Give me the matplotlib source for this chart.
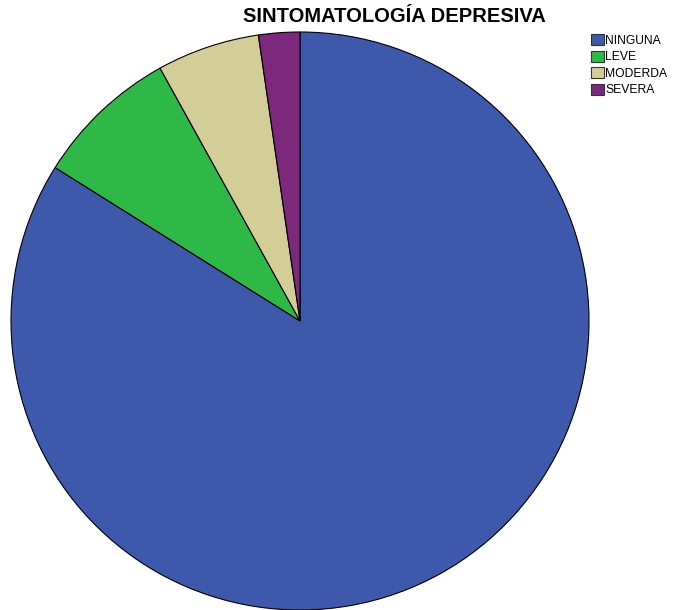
import matplotlib
matplotlib.use("Agg")
import matplotlib.pyplot as plt
from matplotlib.patches import Patch

categories = ["NINGUNA", "LEVE", "MODERDA", "SEVERA"]
values = [73, 7, 5, 2]
colors = ["#3E58AC", "#2EB848", "#D3CE97", "#7C287D"]
title = "SINTOMATOLOGÍA DEPRESIVA"

W, H = 674, 610
fig = plt.figure(figsize=(W / 100, H / 100), dpi=100)
fig.patch.set_facecolor("white")

cx, cy, r = 300, 321, 289
ax = fig.add_axes([(cx - r) / W, (H - cy - r) / H, 2 * r / W, 2 * r / H])
ax.pie(values, colors=colors, startangle=90, counterclock=False,
       wedgeprops=dict(edgecolor="black", linewidth=0.8), radius=1)
ax.set_xlim(-1, 1)
ax.set_ylim(-1, 1)
ax.set_aspect("equal")
ax.axis("off")

fig.text(394 / W, 1 - 17 / H, title, ha="center", va="center",
         fontsize=14.5, fontweight="bold", family=["Liberation Sans", "DejaVu Sans"])

handles = [Patch(facecolor=c, edgecolor="#333333", linewidth=0.8) for c in colors]
leg = fig.legend(handles, categories, loc="upper left",
                 bbox_to_anchor=(583 / W, 1 - 26 / H), frameon=False,
                 prop=dict(family=["Liberation Sans", "DejaVu Sans"], size=8.7),
                 handlelength=1.0, handleheight=1.0, handletextpad=0.15,
                 labelspacing=0.32, borderpad=0.2)

fig.savefig("out.png", dpi=100, facecolor="white")
